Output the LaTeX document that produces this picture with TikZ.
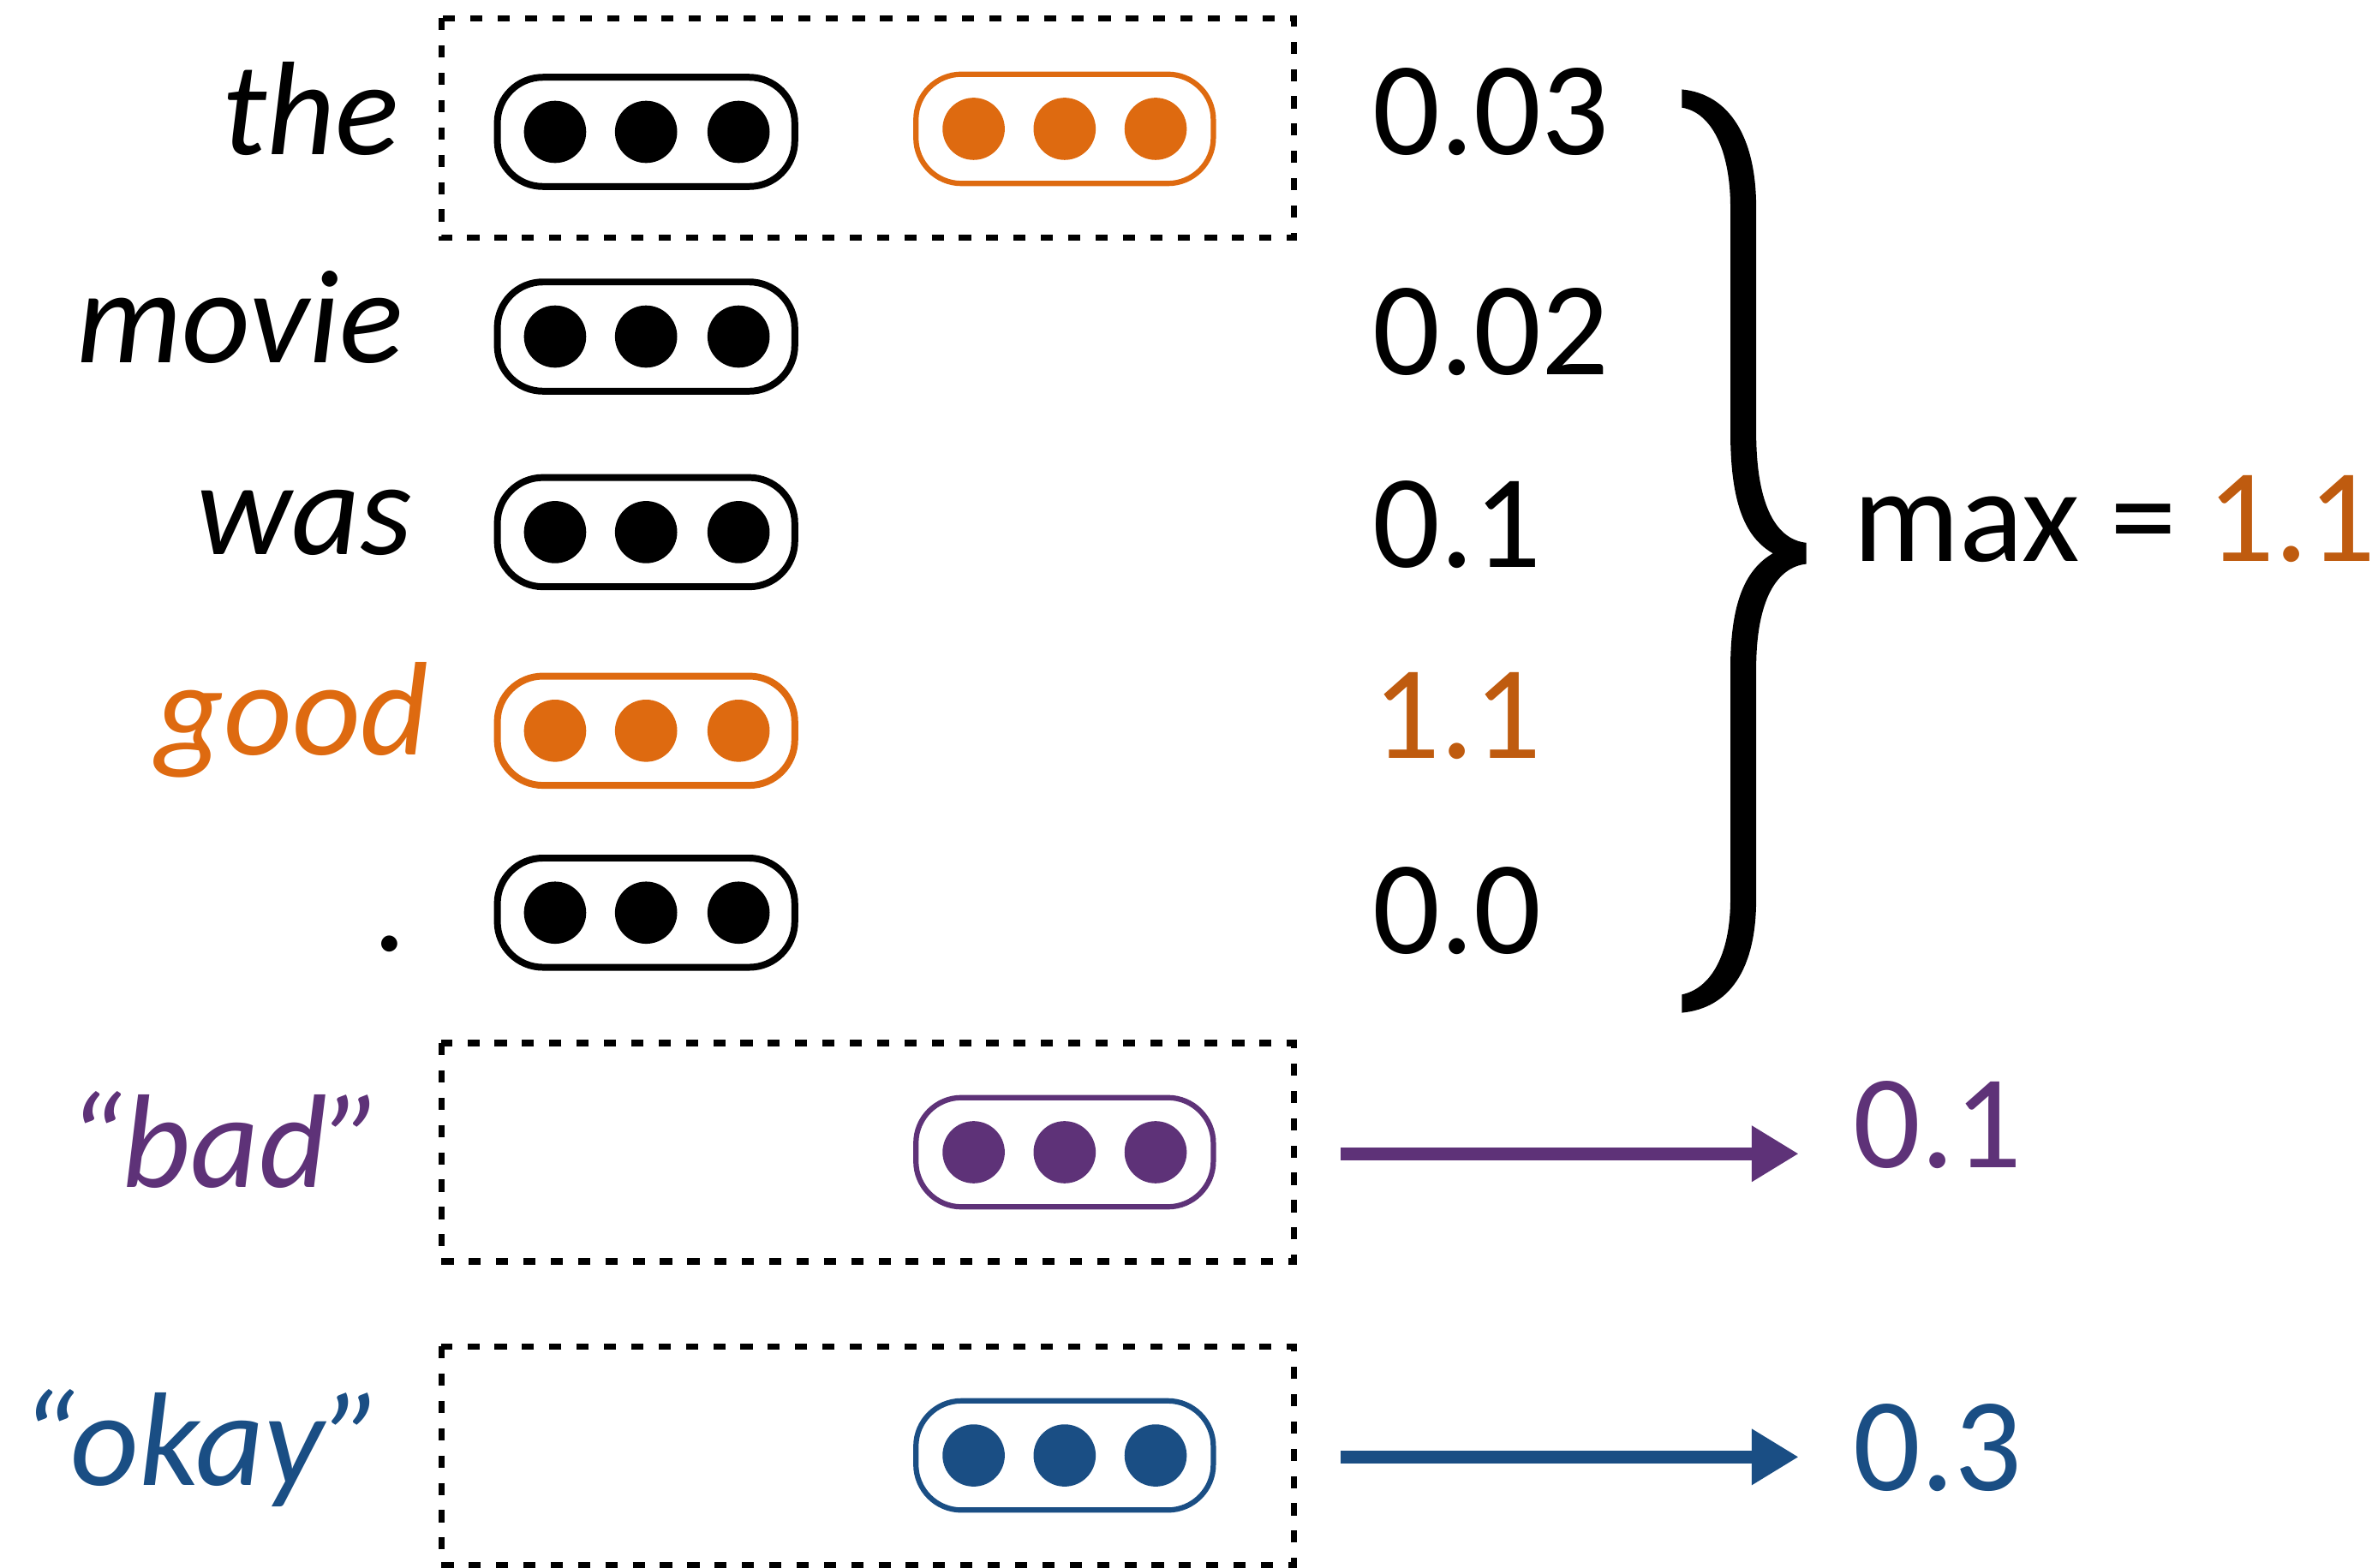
\documentclass[tikz,border=0pt]{standalone}
\usepackage{fontspec}
\setmainfont{Carlito}
\usetikzlibrary{arrows.meta}
\definecolor{orng}{HTML}{DE6A10}
\definecolor{orngnum}{HTML}{BF5B0F}
\definecolor{purp}{HTML}{5E3278}
\definecolor{blu}{HTML}{1A4E84}
\begin{document}
\begin{tikzpicture}[x=0.01cm,y=-0.01cm,
  every node/.style={inner sep=0pt,outer sep=0pt,font=\fontsize{25}{30}\selectfont},
  word/.style={anchor=base east,font=\fontsize{25}{30}\selectfont\itshape},
  num/.style={anchor=base west},
  pill/.style={draw=#1,line width=0.045cm,rounded corners=0.3cm,minimum width=1.96cm,minimum height=0.72cm},
  dot/.style={circle,fill=#1,minimum size=0.41cm},
  dbox/.style={draw=black,line width=0.04cm,dash pattern=on 0.08cm off 0.1cm},
  arr/.style={draw=#1,line width=0.085cm,-{Triangle[length=0.31cm,width=0.35cm]}}]
\useasboundingbox (0,0) rectangle (1568,1034);
% dashed boxes
\draw[dbox] (291,12) rectangle (853,157);
\draw[dbox] (291,688) rectangle (853,832);
\draw[dbox] (291,888) rectangle (853,1032);
% words
\node[word] (w1) at (263,102) {the};
\node[word] (w2) at (266,239) {movie};
\node[word] (w3) at (272,366) {was};
\node[word,text=orng] (w4) at (283,498) {good};
\node[word] (w5) at (270,627) {.};
\node[word,text=purp] (w6) at (253,783) {“bad”};
\node[word,text=blu] (w7) at (253,980) {“okay”};
% black pills
\foreach \i/\y in {1/87,2/222,3/351,5/602}{
  \node[pill=black] (p\i) at (426,\y) {};
  \node[dot=black] (p\i a) at (366,\y) {};
  \node[dot=black] (p\i b) at (426,\y) {};
  \node[dot=black] (p\i c) at (487,\y) {};
}
\node[pill=orng] (p4) at (426,482) {};
\node[dot=orng] (p4a) at (366,482) {};
\node[dot=orng] (p4b) at (426,482) {};
\node[dot=orng] (p4c) at (487,482) {};
% colored pills on the right
\node[pill=orng,line width=0.035cm] (q1) at (702,85) {};
\node[dot=orng] (q1a) at (642,85) {};
\node[dot=orng] (q1b) at (702,85) {};
\node[dot=orng] (q1c) at (762,85) {};
\node[pill=purp,line width=0.035cm] (q2) at (702,760) {};
\node[dot=purp] (q2a) at (642,760) {};
\node[dot=purp] (q2b) at (702,760) {};
\node[dot=purp] (q2c) at (762,760) {};
\node[pill=blu,line width=0.035cm] (q3) at (702,960) {};
\node[dot=blu] (q3a) at (642,960) {};
\node[dot=blu] (q3b) at (702,960) {};
\node[dot=blu] (q3c) at (762,960) {};
% numbers
\node[num] (n1) at (905,102) {0.03};
\node[num] (n2) at (905,247) {0.02};
\node[num] (n3) at (905,374) {0.1};
\node[num,text=orngnum] (n4) at (905,500) {1.1};
\node[num] (n5) at (905,629) {0.0};
% brace
\fill (1109,59) .. controls (1140,62) and (1158,90) .. (1158,137) -- (1158,285)
  .. controls (1158,335) and (1172,356) .. (1191,358) -- (1191,372)
  .. controls (1172,374) and (1158,395) .. (1158,441) -- (1158,593)
  .. controls (1158,640) and (1140,665) .. (1109,668) -- (1109,656)
  .. controls (1128,652) and (1141,630) .. (1141,593) -- (1141,441)
  .. controls (1141,395) and (1152,375) .. (1169,365)
  .. controls (1152,355) and (1141,335) .. (1141,285) -- (1141,137)
  .. controls (1141,98) and (1128,74) .. (1109,71) -- cycle;
\node[num] (mx) at (1222,370) {max = \textcolor{orngnum}{1.1}};
% arrows
\coordinate (a1s) at (884,761);
\coordinate (a1e) at (1186,761);
\coordinate (a2s) at (884,961);
\coordinate (a2e) at (1186,961);
\node[num,text=purp] (r1) at (1222,770) {0.1};
\node[num,text=blu] (r2) at (1222,983) {0.3};
\draw[arr=purp] (a1s) -- (a1e);
\draw[arr=blu] (a2s) -- (a2e);
\end{tikzpicture}
\end{document}
